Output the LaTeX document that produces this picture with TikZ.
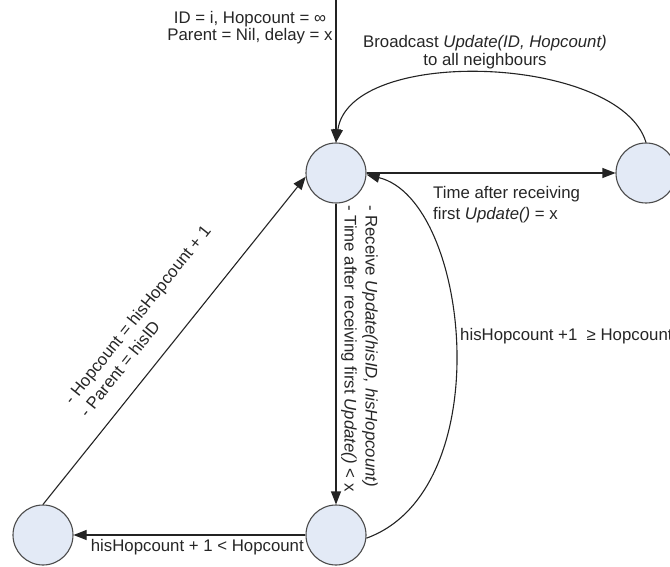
\documentclass[tikz,border=0pt]{standalone}
\usepackage{fontspec}
\setmainfont{Liberation Sans}
\usetikzlibrary{arrows.meta}
\definecolor{nodefill}{RGB}{227,234,246}
\definecolor{circgray}{RGB}{75,75,75}
\definecolor{linecol}{RGB}{35,35,35}
\begin{document}
\begin{tikzpicture}[x=1pt,y=-1pt,
  state/.style={circle,draw=circgray,line width=1.1pt,fill=nodefill,minimum size=60pt,inner sep=0pt},
  conn/.style={draw=linecol,line width=1.1pt,-{Triangle[length=13pt,width=10pt]}},
  lbl/.style={font=\fontsize{16.8}{19}\selectfont,inner sep=0pt,text=black!85},
]
\useasboundingbox (0,0) rectangle (670,567);
\node[state] (top) at (336,173) {};
\node[state] (right) at (646,173) {};
\node[state] (bot) at (336,535) {};
\node[state] (bl) at (43,535) {};
\coordinate (entry) at (336,0);

\draw[conn] (entry) -- (top.north);
\draw[conn] (right.north) .. controls (620,55) and (350,45) .. (top.north);
\draw[conn] (top.east) -- (right.west);
\draw[conn] (bot.-6) .. controls (500,490) and (470,200) .. (top.-3);
\draw[conn] (top.south) -- (bot.north);
\draw[conn] (bot.west) -- (bl.east);
\draw[conn] (bl.north) -- (top.187);

\node[lbl,align=center,font=\fontsize{16.8}{17}\selectfont] (init) at (250,28) {ID = i, Hopcount = ∞\\Parent = Nil, delay = x};
\node[lbl,align=center,font=\fontsize{16.8}{18.5}\selectfont] (bcast) at (485,52) {Broadcast \textit{Update(ID, Hopcount)}\\to all neighbours};
\node[lbl,align=left,anchor=north west,font=\fontsize{16.8}{21}\selectfont] (timer) at (433,186) {Time after receiving\\first \textit{Update()} = x};
\node[lbl,anchor=base west] (geq) at (460,340) {hisHopcount +1\ \ ≥ Hopcount};
\node[lbl,align=left,rotate=-90,anchor=south west,font=\fontsize{16.8}{21}\selectfont] (recv) at (341,205) {- Receive \textit{Update(hisID, hisHopcount)}\\- Time after receiving first \textit{Update()} < x};
\node[lbl,anchor=base east] (less) at (304,551.5) {hisHopcount + 1 < Hopcount};
\node[lbl,align=left,rotate=51.3,font=\fontsize{16.8}{20}\selectfont] (upd) at (145,321) {- Hopcount = hisHopcount + 1\\- Parent = hisID};
\end{tikzpicture}
\end{document}
